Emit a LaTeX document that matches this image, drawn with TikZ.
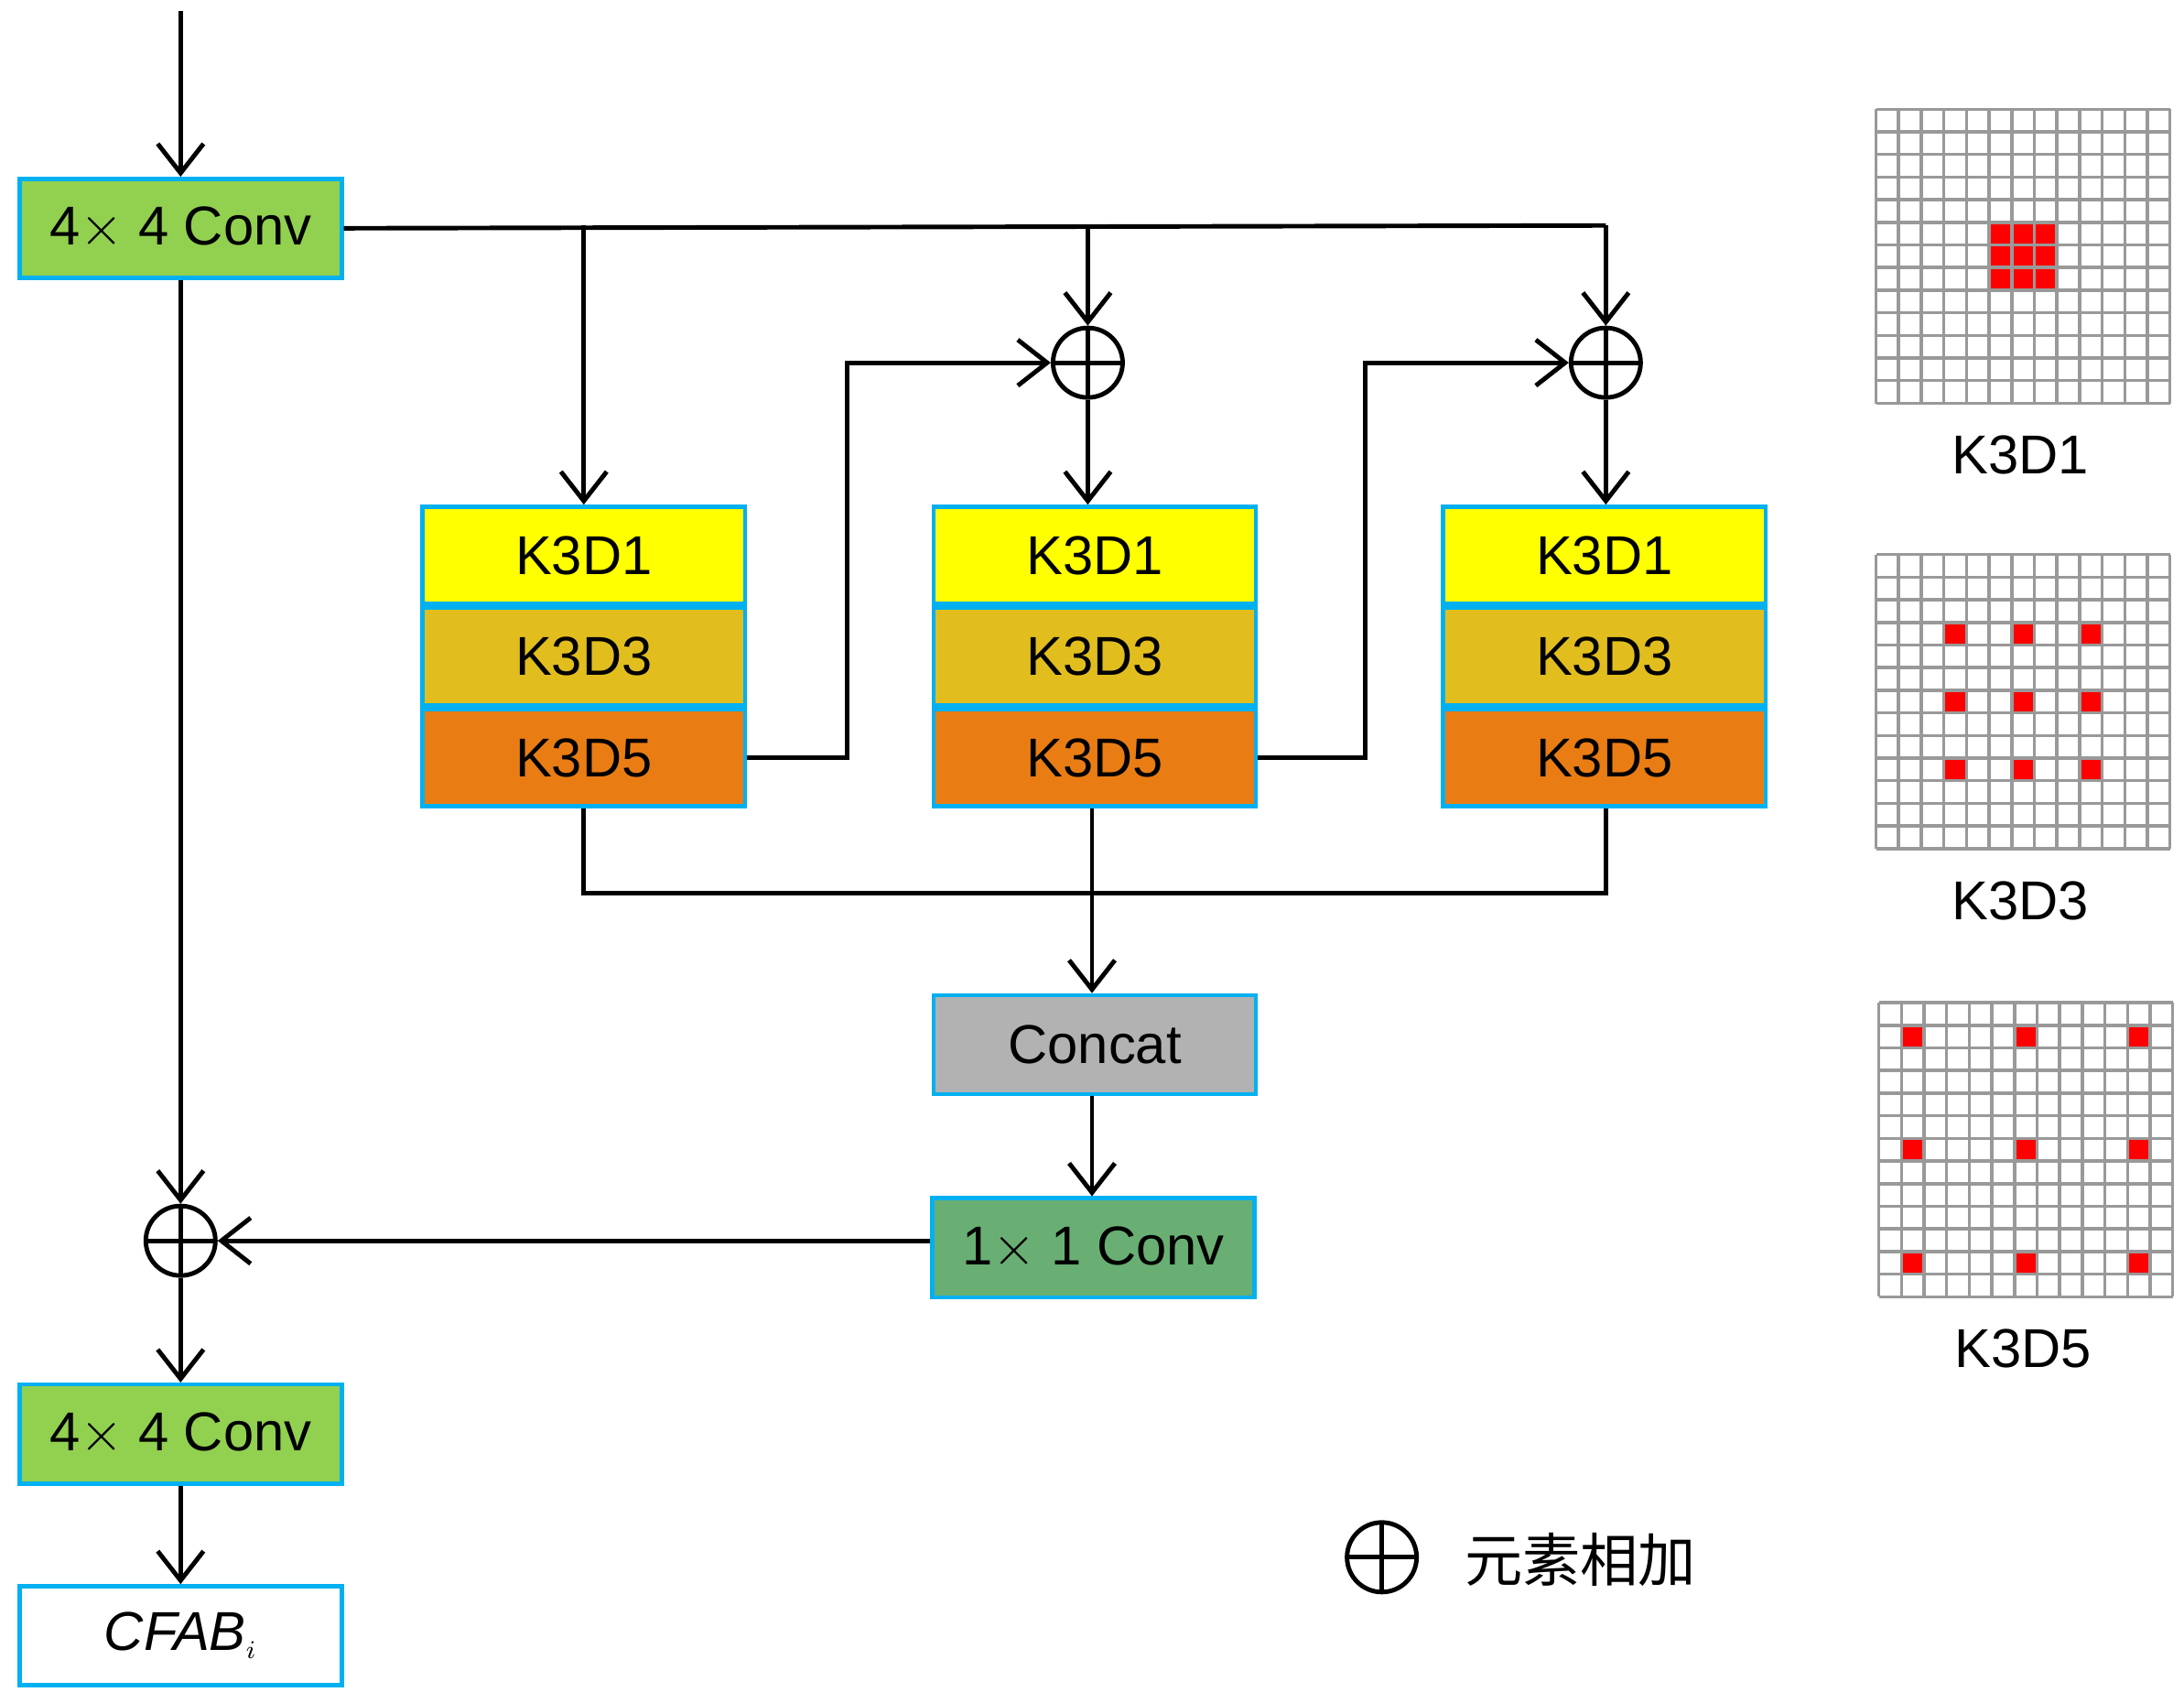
\documentclass[tikz,border=0pt]{standalone}
\usepackage{fontspec}
\setmainfont{Liberation Sans}
\newfontfamily\cjk{Noto Sans CJK SC}
\usepackage{tikz}
\usetikzlibrary{arrows.meta, positioning, calc}

\definecolor{convgreen}{RGB}{146,208,80}
\definecolor{boxcyan}{RGB}{0,176,240}
\definecolor{kyellow}{RGB}{255,255,0}
\definecolor{kgold}{RGB}{225,190,30}
\definecolor{korange}{RGB}{233,125,20}
\definecolor{catgray}{RGB}{178,178,178}
\definecolor{onegreen}{RGB}{105,175,115}

\begin{document}
\begin{tikzpicture}[
    x=0.015295cm, y=-0.015295cm,
    box/.style={rectangle, draw=boxcyan, line width=1.3pt, minimum width=3.52cm, minimum height=1.08cm, inner sep=0pt, font=\fontsize{17}{20}\selectfont},
    krow/.style={box, minimum height=1.06cm},
    plus/.style={circle, draw, line width=1.4pt, minimum size=0.76cm, inner sep=0pt,
        path picture={\draw[line width=1.4pt] (path picture bounding box.north) -- (path picture bounding box.south)
            (path picture bounding box.west) -- (path picture bounding box.east);}},
    arrow/.style={-{Straight Barb[length=3.2mm, width=5mm]}, line width=1.4pt},
    line/.style={line width=1.4pt},
    label/.style={font=\fontsize{17}{20}\selectfont}
]
\useasboundingbox (0,0) rectangle (1560,1216);

% === Input and left path ===
\coordinate (in) at (129,8);
\node[box, fill=convgreen] (conv1) at (129,163) {4$\times$ 4 Conv};
\node[plus] (add3) at (129,886) {};
\node[box, fill=convgreen] (conv2) at (129,1024) {4$\times$ 4 Conv};
\node[box, fill=white] (out) at (129,1168) {\itshape CFAB$_{\scriptscriptstyle i}$};

\draw[arrow] (in) -- (conv1);
\draw[arrow] (conv1) -- (add3);
\draw[arrow] (add3) -- (conv2);
\draw[arrow] (conv2) -- (out);

% === Kernel blocks ===
\foreach \i/\x in {1/417, 2/782, 3/1146} {
    \node[krow, fill=kyellow] (a\i) at (\x,396.5) {K3D1};
    \node[krow, fill=kgold, below=0pt of a\i] (b\i) {K3D3};
    \node[krow, fill=korange, below=0pt of b\i] (c\i) {K3D5};
}

\node[plus] (add1) at (777,259) {};
\node[plus] (add2) at (1147,259) {};
\coordinate (tap1) at (417,161);
\coordinate (tap2) at (777,161);
\coordinate (tap3) at (1147,161);

\draw[line] (conv1.east) -- (tap3);
\draw[arrow] (tap1) -- (a1.north);
\draw[arrow] (tap2) -- (add1);
\draw[arrow] (tap3) -- (add2);
\draw[arrow] (add1) -- (add1 |- a2.north);
\draw[arrow] (add2) -- (add2 |- a3.north);
\draw[arrow] (c1.east) -| (605,259) -- (add1);
\draw[arrow] (c2.east) -| (975,259) -- (add2);

% === Fusion ===
\node[box, fill=catgray] (cat) at (782,746) {Concat};
\node[box, fill=onegreen] (one) at (781,891) {1$\times$ 1 Conv};
\coordinate (join) at (780,638);

\draw[line] (c1.south) -- (417,638) -- (1147,638) -- (add2 |- c3.south);
\draw[arrow] (join |- c2.south) -- (join |- cat.north);
\draw[arrow] (join |- cat.south) -- (join |- one.north);
\draw[arrow] (one.west |- add3) -- (add3);

% Legend
\node[plus] (leg) at (987,1112) {};
\node[anchor=west, font=\cjk\fontsize{18}{22}\selectfont] (legtext) at (1038,1114) {元素相加};

% === Dilation grids ===
\foreach \gx/\gy/\sp/\nm in {1340/78/0/K3D1, 1340/396/3/K3D3, 1342/716/5/K3D5} {
    \begin{scope}[shift={(\gx,\gy)}]
        \ifnum\sp=0
            \fill[red] (5*16.15,5*16.15) rectangle (8*16.15,8*16.15);
        \else
            \foreach \r in {-1,0,1} \foreach \c in {-1,0,1}
                \fill[red] ({(6+\c*\sp)*16.15+1},{(6+\r*\sp)*16.15+1}) rectangle ++(14,14);
        \fi
        \foreach \k in {0,...,13} {
            \draw[gray!80, line width=1pt] (\k*16.15,0) -- (\k*16.15,210);
            \draw[gray!80, line width=1pt] (0,\k*16.15) -- (210,\k*16.15);
        }
        \node[label] at (103,247) {\nm};
    \end{scope}
}
\end{tikzpicture}
\end{document}
